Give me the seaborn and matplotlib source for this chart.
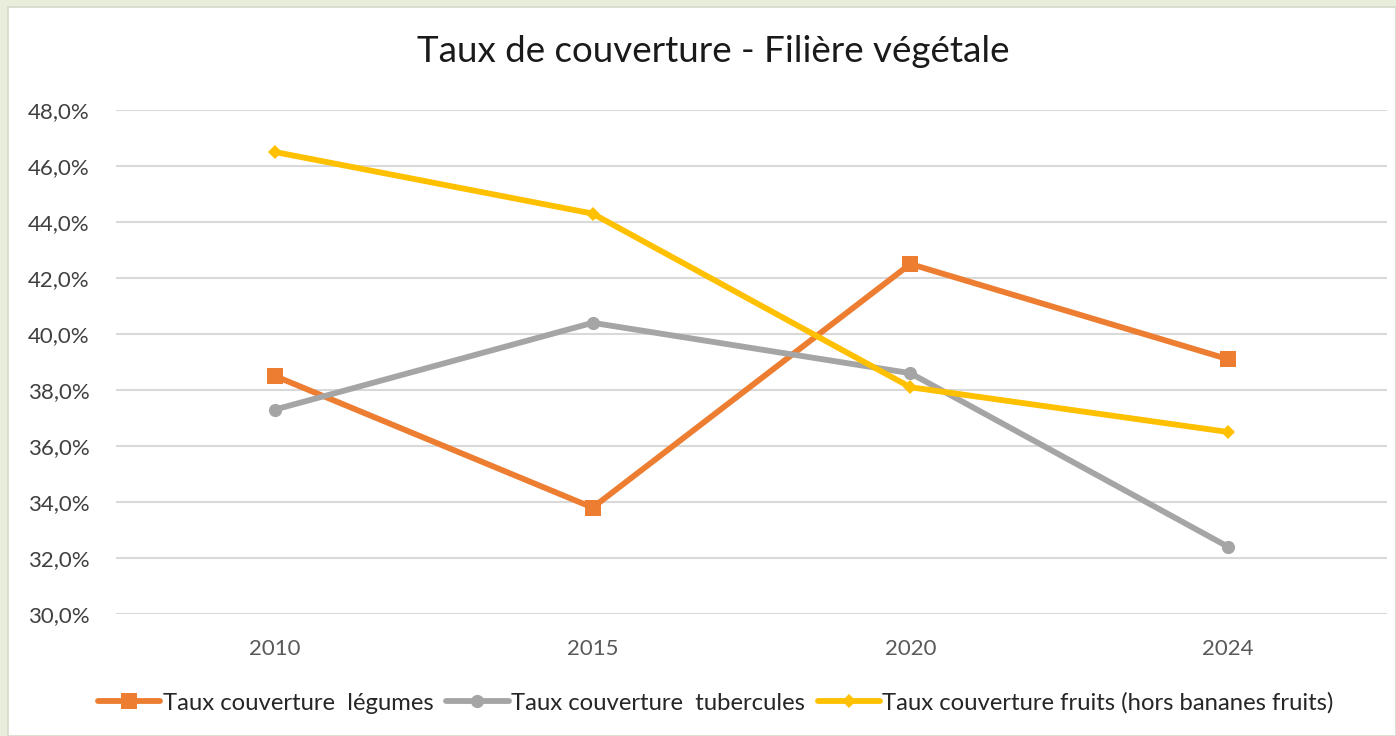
import pandas as pd
import matplotlib.pyplot as plt
import seaborn as sns
from matplotlib.patches import Rectangle
from matplotlib.ticker import FuncFormatter, MultipleLocator

annees = ['2010', '2015', '2020', '2024']
legumes = [38.5, 33.8, 42.5, 39.1]
tubercules = [37.3, 40.4, 38.6, 32.4]
fruits = [46.5, 44.3, 38.1, 36.5]

noms = ['Taux couverture  légumes', 'Taux couverture  tubercules',
        'Taux couverture fruits (hors bananes fruits)']
couleurs = ['#ED7D31', '#A5A5A5', '#FFC000']
marqueurs = ['s', 'o', 'D']
tailles = [11, 9.5, 7.5]

df = pd.DataFrame({
    'Annee': annees * 3,
    'Serie': [noms[0]] * 4 + [noms[1]] * 4 + [noms[2]] * 4,
    'Taux': legumes + tubercules + fruits,
})

sns.set_theme(style='white')
plt.rcParams['font.family'] = ['Lato', 'DejaVu Sans']

fig = plt.figure(figsize=(13.96, 7.36), dpi=100, facecolor='#E8EDDC')
fig.patches.append(Rectangle((8 / 1396, 0), 1 - 8 / 1396, 1 - 7 / 736,
                             transform=fig.transFigure, facecolor='white',
                             edgecolor='#D5D9CC', linewidth=1.2, zorder=-10))
ax = fig.add_axes([116 / 1396, 1 - 614 / 736, (1387 - 116) / 1396, (614 - 110) / 736])
ax.set_facecolor('none')
ax.set_zorder(5)

ax = sns.lineplot(data=df, x='Annee', y='Taux', hue='Serie', style='Serie',
                  palette=dict(zip(noms, couleurs)),
                  markers=dict(zip(noms, marqueurs)), dashes=False,
                  linewidth=4.2, markeredgewidth=0, sort=False, ax=ax)

# taille des marqueurs
for ligne, m in zip(ax.lines[:3], tailles):
    ligne.set_markersize(m)

ax.set_ylim(30, 48)
ax.set_xlim(-0.5, 3.5)
ax.yaxis.set_major_locator(MultipleLocator(2))
ax.yaxis.set_major_formatter(FuncFormatter(lambda v, p: f'{v:.1f}%'.replace('.', ',')))
ax.grid(axis='y', color='#D9D9D9', linewidth=1.5)
ax.set_axisbelow(True)
sns.despine(ax=ax, left=True, bottom=True)
ax.tick_params(axis='y', labelsize=16, labelcolor='#404040', pad=19, length=0)
ax.tick_params(axis='x', labelsize=16, labelcolor='#595959', pad=18, length=0)
ax.set_xlabel('')
ax.set_ylabel('')

fig.suptitle('Taux de couverture - Filière végétale', x=713 / 1396, y=1 - 52 / 736,
             va='center', fontsize=26.5, color='#1A1A1A')

h, l = ax.get_legend_handles_labels()
for hh, m in zip(h, tailles):
    hh.set_markersize(m)
    hh.set_linewidth(4.2)
ax.legend(h, l, loc='center', bbox_to_anchor=((716 - 116) / 1271, -(703 - 614) / 504),
          ncol=3, frameon=False, fontsize=17.2, handlelength=2.6,
          handletextpad=0.1, columnspacing=0.55, labelcolor='#262626')

fig.savefig('out.png', dpi=100, facecolor=fig.get_facecolor())
